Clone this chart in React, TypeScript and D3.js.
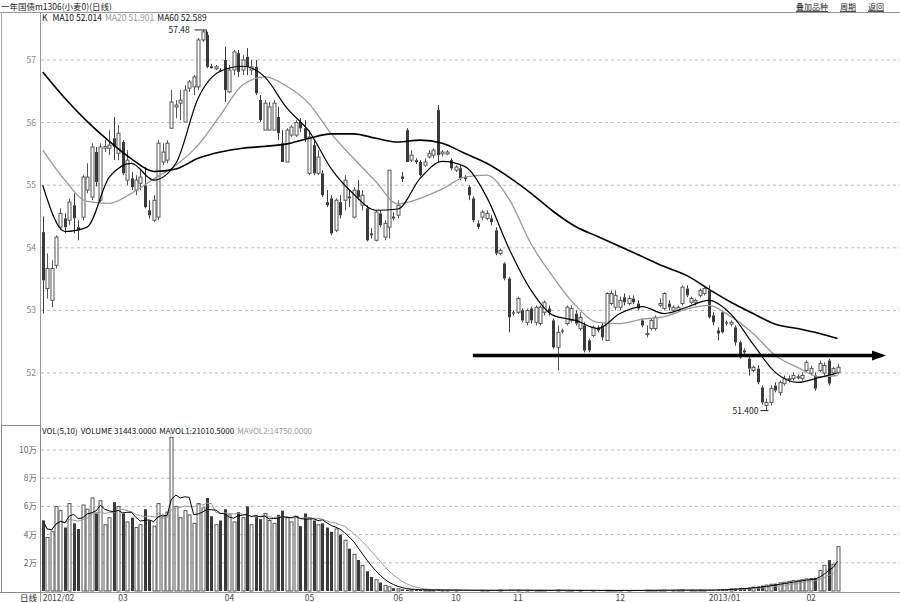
import React from "react";
import * as d3 from "d3";

// ---------- data ----------
const opens = [54.25,53.35,53.16,53.72,54.33,54.47,54.44,54.68,54.33,54.49,54.92,54.81,55.53,54.76,55.59,55.59,55.75,55.51,55.69,55.08,55.11,54.92,55.03,55.00,54.60,54.44,54.49,55.37,55.40,55.91,56.25,56.31,56.01,56.55,56.57,56.57,57.32,57.40,56.90,56.86,56.84,57.00,56.49,56.84,57.11,56.84,57.05,56.84,56.89,56.36,55.88,55.88,55.88,56.09,55.67,55.37,55.80,55.80,56.01,55.91,55.19,55.64,55.19,55.19,54.73,54.79,54.28,54.73,54.76,54.82,54.49,54.92,54.68,54.63,54.23,54.12,54.55,54.17,54.33,54.50,54.52,55.14,55.88,55.40,55.40,55.37,55.32,55.45,55.48,56.20,55.50,55.50,55.40,55.24,55.27,55.13,54.97,54.79,54.39,54.49,54.47,54.47,54.28,53.91,53.75,53.51,52.97,52.97,53.00,52.81,53.03,52.81,52.79,52.97,53.03,52.84,52.41,52.68,52.79,52.84,52.95,52.71,52.76,52.52,52.60,52.73,52.76,52.52,53.11,53.05,53.05,53.21,53.11,53.19,53.11,52.84,52.62,52.71,52.71,53.08,53.03,53.11,53.00,53.00,53.11,53.35,53.13,53.13,53.24,53.27,53.32,52.92,52.68,52.97,52.81,52.78,52.73,52.49,52.36,52.23,52.04,52.07,51.77,51.48,51.53,51.80,51.69,51.83,51.90,51.91,51.93,51.91,52.04,52.00,51.96,52.04,52.00,52.20,52.00,52.01];
const highs = [54.50,53.91,53.80,54.20,54.63,54.55,54.79,54.87,54.44,55.16,55.35,55.67,55.61,55.67,55.72,55.88,56.09,55.96,55.72,55.56,55.21,55.16,55.24,55.29,54.76,54.84,55.72,55.67,55.72,56.52,56.36,56.52,56.60,56.68,56.76,57.35,57.48,57.45,56.94,56.92,56.87,57.21,56.92,57.16,57.16,57.08,57.19,57.00,57.00,56.44,56.36,56.33,56.36,56.25,55.88,55.91,55.96,56.04,56.07,56.04,55.88,55.72,55.56,55.24,54.92,54.84,54.79,54.84,55.16,54.92,54.97,55.08,54.92,54.68,54.31,54.60,54.60,54.44,55.24,54.57,54.76,55.21,55.91,55.56,55.43,55.40,55.43,55.56,55.59,56.28,55.56,55.56,55.43,55.32,55.32,55.16,55.00,54.82,54.44,54.60,54.60,54.52,54.33,53.99,53.77,53.53,53.00,53.22,53.03,53.03,53.06,53.08,53.08,53.16,53.08,52.87,52.76,52.71,53.08,53.08,53.00,52.97,52.81,52.55,52.76,52.76,52.81,53.29,53.32,53.32,53.22,53.27,53.24,53.24,53.16,52.87,52.76,52.87,52.92,53.19,53.29,53.16,53.08,53.08,53.40,53.40,53.22,53.19,53.35,53.40,53.40,52.97,52.73,53.00,52.84,52.84,52.76,52.52,52.39,52.28,52.12,52.12,51.80,51.59,51.80,51.85,51.88,51.96,51.96,52.01,51.98,52.01,52.20,52.12,52.01,52.20,52.17,52.23,52.10,52.15];
const lows = [52.95,53.19,53.05,53.67,54.28,54.23,54.36,54.23,54.12,54.44,54.87,54.76,54.98,54.73,55.53,55.48,55.40,55.40,55.16,55.00,54.92,54.84,54.92,54.63,54.47,54.41,54.44,55.32,55.35,55.91,56.07,56.04,56.01,56.49,56.44,56.52,57.29,56.87,56.86,56.84,56.81,56.33,56.47,56.76,56.73,56.76,56.76,56.76,56.44,56.01,55.88,55.88,55.88,55.72,55.37,55.37,55.77,55.77,55.85,55.69,55.16,55.16,55.16,54.81,54.65,54.20,54.25,54.47,54.60,54.65,54.47,54.76,54.60,54.10,54.15,54.10,54.33,54.12,54.15,54.44,54.47,55.05,55.37,55.37,55.34,55.14,55.29,55.43,55.43,55.37,55.46,55.48,55.24,55.21,55.08,55.06,54.76,54.41,54.30,54.44,54.44,54.36,53.88,53.88,53.48,52.65,52.92,52.94,52.81,52.76,52.79,52.76,52.76,52.92,52.92,52.39,52.04,52.63,52.76,52.81,52.76,52.68,52.33,52.33,52.57,52.65,52.52,52.52,53.08,53.00,53.00,53.08,53.08,53.10,53.00,52.73,52.57,52.68,52.68,53.05,53.00,53.00,52.97,52.97,53.08,53.21,53.10,53.08,53.21,53.24,52.87,52.76,52.52,52.63,52.76,52.74,52.44,52.23,52.28,51.96,52.01,51.82,51.50,51.40,51.48,51.69,51.64,51.80,51.85,51.88,51.90,51.88,52.01,51.96,51.72,52.01,51.96,51.80,51.96,51.98];
const closes = [53.48,53.67,53.67,54.17,54.55,54.33,54.73,54.47,54.28,55.13,55.13,55.61,55.05,55.61,55.62,55.64,55.61,55.83,55.19,55.40,54.97,55.08,55.13,54.65,54.52,54.76,55.67,55.53,55.67,56.33,56.28,56.36,56.52,56.65,56.73,57.32,57.45,56.89,56.87,56.89,56.82,56.52,56.84,57.13,56.81,57.00,56.89,56.89,56.47,56.04,56.31,56.25,56.31,55.83,55.37,55.88,55.93,56.00,55.91,55.75,55.77,55.19,55.45,54.84,54.68,54.23,54.76,54.52,55.08,54.79,54.92,54.81,54.84,54.12,54.20,54.57,54.36,54.39,55.24,54.47,54.68,55.10,55.37,55.48,55.37,55.16,55.37,55.51,55.56,55.48,55.53,55.53,55.27,55.29,55.11,55.10,54.84,54.44,54.33,54.57,54.55,54.41,53.91,53.96,53.51,52.89,52.95,53.19,52.84,53.00,52.84,53.05,53.05,53.13,52.97,52.41,52.65,52.66,53.05,53.03,52.79,52.89,52.36,52.36,52.73,52.68,52.57,53.27,53.27,53.24,53.16,53.13,53.19,53.13,53.03,52.76,52.63,52.84,52.89,53.11,53.27,53.05,53.05,53.05,53.37,53.24,53.19,53.16,53.32,53.35,52.89,52.81,52.63,52.65,52.79,52.81,52.49,52.25,52.33,52.07,52.09,51.85,51.53,51.53,51.75,51.72,51.85,51.91,51.91,51.96,51.94,51.96,52.17,52.07,51.75,52.15,52.12,51.83,52.07,52.09];
const volumes = [
  50000,38000,42000,60000,57000,45000,62000,48000,44000,61000,
  58000,66000,55000,64000,47000,52000,63000,60000,55000,49000,
  52000,45000,47000,58000,50000,46000,62000,53000,56000,109000,
  60000,52000,57000,54000,48000,62000,59000,66000,53000,47000,
  50000,58000,54000,49000,56000,52000,60000,47000,53000,51000,
  55000,50000,48000,54000,57000,52000,49000,53000,46000,55000,
  52000,50000,47000,48000,45000,42000,44000,40000,36000,30000,
  26000,22000,18000,14000,10000,8000,6000,4000,3000,2000,
  1500,1200,1000,900,800,700,800,600,700,900,
  600,500,700,600,500,600,400,500,600,500,
  400,500,600,700,500,800,600,500,400,500,
  600,400,500,400,500,600,700,500,400,300,
  400,500,400,500,400,300,400,500,400,300,
  400,500,400,300,400,500,600,500,400,500,
  600,700,500,600,800,
  500,600,500,700,600,800,700,900,1000,1200,1500,1800,2200,
  2000,2400,2800,3200,3800,4200,4800,5200,5800,6200,6800,7400,
  7600,8000,8600,8900,9348,14500,18200,21900,19009,31443,
];

// moving averages, one value every 5 bars (last at final bar)
const maIndex = [0,5,10,15,20,25,30,35,40,45,50,55,60,65,70,75,80,85,90,95,100,105,110,115,120,125,130,135,140,145,150,155,160,165,170,175,179];
const ma10 = [55.00,54.26,54.33,55.13,55.35,55.08,55.35,56.39,56.82,56.90,56.73,56.23,55.86,55.26,54.86,54.60,54.62,55.11,55.38,55.30,54.81,53.99,53.32,52.92,52.84,52.71,52.95,53.06,52.95,53.05,53.16,52.94,52.46,52.01,51.85,51.93,52.00];
const ma20 = [55.56,55.08,54.74,54.71,54.87,55.10,55.32,55.64,56.12,56.60,56.73,56.58,56.30,55.82,55.43,55.06,54.70,54.79,54.94,55.13,55.16,54.78,54.06,53.53,53.08,52.81,52.79,52.86,52.90,53.02,53.08,52.90,52.63,52.28,52.09,51.94,51.96];
const ma60 = [56.81,56.39,56.02,55.70,55.42,55.22,55.26,55.43,55.53,55.59,55.62,55.66,55.75,55.82,55.82,55.75,55.69,55.72,55.67,55.51,55.35,55.13,54.87,54.58,54.34,54.18,54.02,53.86,53.70,53.56,53.34,53.13,52.95,52.78,52.71,52.63,52.55];

const priceTicks = [57, 56, 55, 54, 53, 52];
const volTicks = [100000, 80000, 60000, 40000, 20000];
const volTickLabels = ["10万", "8万", "6万", "4万", "2万"];
const dateTickIndex = [0, 17, 41, 59, 79, 92, 106, 129, 150, 172];
const dateTickLabels = ["2012/02", "03", "04", "05", "06", "10", "11", "12", "2013/01", "02"];
const supportLevel = 52.28;

const FONT = "'Noto Sans CJK SC', 'DejaVu Sans', sans-serif";

function movingAvg(vals: number[], n: number) {
  return vals.map((_, i) => {
    const s = vals.slice(Math.max(0, i - n + 1), i + 1);
    return d3.mean(s) as number;
  });
}

export default function App() {
  const W = 900, H = 602;
  const n = closes.length;
  const x = d3.scaleLinear().domain([0, n - 1]).range([42.7, 837.5]);
  const y = d3.scaleLinear().domain([52, 57]).range([373, 60]);
  const vy = d3.scaleLinear().domain([0, 100000]).range([591, 450]);
  const bw = 3;

  const maLine = d3.line<number>()
    .x((_, i) => x(maIndex[i]))
    .y((d) => y(d))
    .curve(d3.curveMonotoneX);

  const vma5 = movingAvg(volumes, 5);
  const vma10 = movingAvg(volumes, 10);
  const vLine = d3.line<number>().x((_, i) => x(i)).y((d) => vy(d));

  const hiIdx = d3.maxIndex(highs);
  const loIdx = d3.minIndex(lows);

  return (
    <svg width={W} height={H} style={{ position: "absolute", left: 0, top: 0, background: "#fff" }} fontFamily={FONT}>
      <rect x={0} y={0} width={W} height={H} fill="#fff" />
      {/* title bar */}
      <text x={1} y={10} fontSize={8.5} fill="#222">一年国债m1306(小麦0)(日线)</text>
      <text x={796} y={10} fontSize={8} fill="#222" textDecoration="underline">叠加品种</text>
      <text x={840} y={10} fontSize={8} fill="#222" textDecoration="underline">周期</text>
      <text x={868} y={10} fontSize={8} fill="#222" textDecoration="underline">返回</text>
      <line x1={0} x2={W} y1={12.5} y2={12.5} stroke="#999" />
      {/* frame */}
      <line x1={1.5} x2={1.5} y1={12} y2={592} stroke="#aaa" />
      <line x1={40.5} x2={40.5} y1={12} y2={602} stroke="#999" />
      <line x1={0} x2={W} y1={592.5} y2={592.5} stroke="#999" />
      <rect x={1.5} y={425.5} width={39} height={167} fill="none" stroke="#888" />

      {/* price grid */}
      {priceTicks.map((t) => (
        <g key={t}>
          <line x1={41} x2={W} y1={y(t)} y2={y(t)} stroke="#bbb" strokeDasharray="3,3" />
          <text x={36} y={y(t) + 3} fontSize={8.5} fill="#888" textAnchor="end">{t}</text>
        </g>
      ))}
      {/* volume grid */}
      {volTicks.map((t, i) => (
        <g key={t}>
          <line x1={41} x2={W} y1={vy(t)} y2={vy(t)} stroke="#bbb" strokeDasharray="3,3" />
          <text x={37} y={vy(t) + 3} fontSize={8.5} fill="#666" textAnchor="end">{volTickLabels[i]}</text>
        </g>
      ))}

      {/* header */}
      <text x={42} y={21} fontSize={8.5} fill="#111">
        <tspan>K</tspan>
        <tspan dx={5}>MA10 52.014</tspan>
        <tspan dx={3} fill="#999">MA20 51.901</tspan>
        <tspan dx={3}>MA60 52.589</tspan>
      </text>
      <text x={42} y={434} fontSize={8} fill="#111">
        <tspan>VOL(5,10)</tspan>
        <tspan dx={3}>VOLUME 31443.0000</tspan>
        <tspan dx={3}>MAVOL1:21010.5000</tspan>
        <tspan dx={3} fill="#999">MAVOL2:14750.0000</tspan>
      </text>

      {/* candles */}
      {closes.map((c, i) => {
        const o = opens[i];
        const up = c >= o;
        const cx = Math.round(x(i)) + 0.5;
        const top = y(Math.max(o, c));
        const bot = y(Math.min(o, c));
        const h = Math.max(1, bot - top);
        return (
          <g key={i}>
            <line x1={cx} x2={cx} y1={y(highs[i])} y2={top} stroke={up ? "#555" : "#3a3a3a"} />
            <line x1={cx} x2={cx} y1={top + h} y2={y(lows[i])} stroke={up ? "#555" : "#3a3a3a"} />
            {up ? (
              <rect x={cx - 1.5} y={top} width={bw} height={h} fill="#fff" stroke="#555" strokeWidth={1} />
            ) : (
              <rect x={cx - 1.5} y={top} width={bw} height={h} fill="#3a3a3a" />
            )}
          </g>
        );
      })}

      {/* moving averages */}
      <path d={maLine(ma20) || ""} fill="none" stroke="#999" strokeWidth={1.3} />
      <path d={maLine(ma10) || ""} fill="none" stroke="#000" strokeWidth={1.2} />
      <path d={maLine(ma60) || ""} fill="none" stroke="#000" strokeWidth={1.6} />

      {/* high / low labels */}
      <text x={x(hiIdx) - 34} y={y(highs[hiIdx]) + 3} fontSize={8.5} fill="#222">{highs[hiIdx].toFixed(2)}</text>
      <path d={`M${x(hiIdx) - 8},${y(highs[hiIdx])}H${x(hiIdx) + 4}V${y(highs[hiIdx]) + 5}`} fill="none" stroke="#222" />
      <text x={x(loIdx) - 34} y={y(lows[loIdx]) + 3} fontSize={8.5} fill="#222">{lows[loIdx].toFixed(3)}</text>
      <line x1={x(loIdx) - 6} x2={x(loIdx) + 2} y1={y(lows[loIdx])} y2={y(lows[loIdx])} stroke="#222" />

      {/* support arrow */}
      <line x1={473} x2={874} y1={y(supportLevel)} y2={y(supportLevel)} stroke="#000" strokeWidth={3.5} />
      <path d={`M872,${y(supportLevel) - 5}L886,${y(supportLevel)}L872,${y(supportLevel) + 5}Z`} fill="#000" />

      {/* volume bars */}
      {volumes.map((v, i) => {
        const up = closes[i] >= opens[i];
        const cx = Math.round(x(i)) + 0.5;
        const t = vy(v);
        const h = Math.max(0.5, vy(0) - t);
        return up ? (
          <rect key={i} x={cx - 1.5} y={t} width={bw} height={h} fill="#fff" stroke="#555" strokeWidth={1} />
        ) : (
          <rect key={i} x={cx - 1.5} y={t} width={bw} height={h} fill="#3a3a3a" />
        );
      })}
      <path d={vLine(vma10) || ""} fill="none" stroke="#999" strokeWidth={1} />
      <path d={vLine(vma5) || ""} fill="none" stroke="#000" strokeWidth={1} />

      {/* date axis */}
      <text x={37} y={601} fontSize={8.5} fill="#222" textAnchor="end">日线</text>
      {dateTickIndex.map((idx, i) => (
        <text key={i} x={x(idx)} y={601} fontSize={8.5} fill="#444">{dateTickLabels[i]}</text>
      ))}
    </svg>
  );
}
